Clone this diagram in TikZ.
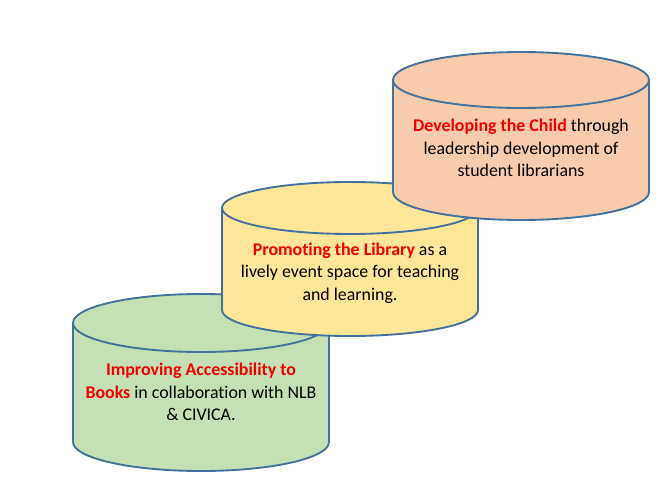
\documentclass[tikz,border=0pt]{standalone}
\usepackage{fontspec}
\setmainfont{Carlito}[Ligatures=NoCommon]
\definecolor{edge}{HTML}{41719C}
\definecolor{fillO}{HTML}{F8CBAD}
\definecolor{fillY}{HTML}{FFE699}
\definecolor{fillG}{HTML}{C5E0B4}
\definecolor{hl}{HTML}{F00000}
\newcommand{\cylbody}[6]{% cx, rx, top, bot, ry, fill
  \path[cylstyle, fill=#6] (#1-#2,#3) -- (#1-#2,#4)
    arc[start angle=180, end angle=360, x radius=#2*0.75pt, y radius=#5*0.75pt]
    -- (#1+#2,#3)
    arc[start angle=0, end angle=180, x radius=#2*0.75pt, y radius=#5*0.75pt] -- cycle;
  \draw[cylstyle] (#1-#2,#3)
    arc[start angle=180, end angle=360, x radius=#2*0.75pt, y radius=#5*0.75pt];
}
\begin{document}
\begin{tikzpicture}[x=0.75pt,y=0.75pt,
  cylstyle/.style={draw=edge, line width=1.4pt},
  label/.style={align=center, font=\fontsize{13.4}{16.9}\selectfont, inner sep=0pt}]
\useasboundingbox[fill=white] (0,0) rectangle (663,483);
% green
\cylbody{201}{128}{160}{41}{29}{fillG}
% yellow
\cylbody{350}{128}{275}{173}{26}{fillY}
% orange
\cylbody{521}{128}{403}{291}{28}{fillO}
\node[label] (tO) at (521,335) {\textcolor{hl}{\textbf{Developing the Child}} through\\leadership development of\\student librarians};
\node[label] (tY) at (350,210) {\textcolor{hl}{\textbf{Promoting the Library}} as a\\lively event space for teaching\\and learning.};
\node[label] (tG) at (201,91) {\textcolor{hl}{\textbf{Improving Accessibility to}}\\\textcolor{hl}{\textbf{Books}} in collaboration with NLB\\\& CIVICA.};
\end{tikzpicture}
\end{document}
